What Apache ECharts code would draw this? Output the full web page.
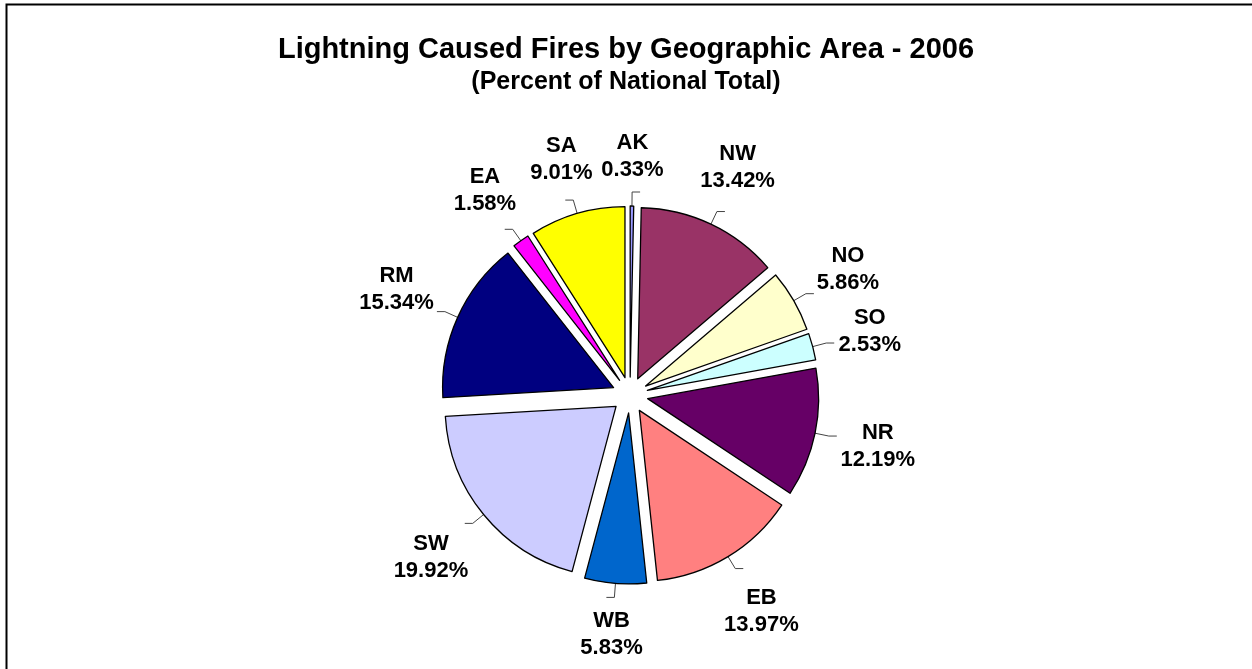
<!DOCTYPE html>
<html>
<head>
<meta charset="utf-8">
<script src="https://cdn.jsdelivr.net/npm/echarts@6/dist/echarts.min.js"></script>
<style>
  html, body { margin: 0; padding: 0; background: #fff; }
  #chart { width: 1252px; height: 669px; }
</style>
</head>
<body>
<div id="chart"></div>
<script>
// areas, clockwise from the top
const areas = ['AK', 'NW', 'NO', 'SO', 'NR', 'EB', 'WB', 'SW', 'RM', 'EA', 'SA']
const percents = [0.33, 13.42, 5.86, 2.53, 12.19, 13.97, 5.83, 19.92, 15.34, 1.58, 9.01]
const colors = ['#9999FF', '#993366', '#FFFFCC', '#CCFFFF', '#660066', '#FF8080',
  '#0066CC', '#CCCCFF', '#000080', '#FF00FF', '#FFFF00']

const CX = 630
const CY = 395
const R = 171
const OFFSET = 18

// angle of each slice's middle, clockwise from 12 o'clock
const total = percents.reduce((a, b) => a + b, 0)
let acc = 0
const midAngles = percents.map((v) => {
  const mid = ((acc + v / 2) / total) * Math.PI * 2
  acc += v
  return mid
})

const myChart = echarts.init(document.getElementById('chart'))

const labelFont = {
  fontFamily: 'Liberation Sans',
  fontWeight: 'bold',
  fontSize: 22,
  lineHeight: 27,
  color: '#000'
}

const option = {
  backgroundColor: '#fff',
  animation: false,
  title: {
    text: 'Lightning Caused Fires by Geographic Area - 2006',
    subtext: '(Percent of National Total)',
    left: 'center',
    top: 30,
    itemGap: 6,
    textStyle: {
      fontFamily: 'Liberation Sans',
      fontWeight: 'bold',
      fontSize: 29,
      color: '#000'
    },
    subtextStyle: {
      fontFamily: 'Liberation Sans',
      fontWeight: 'bold',
      fontSize: 25,
      color: '#000'
    }
  },
  graphic: [
    {
      type: 'rect',
      shape: { x: 6.5, y: 4.5, width: 1400, height: 800 },
      style: { fill: 'none', stroke: '#000', lineWidth: 2 },
      silent: true
    }
  ],
  series: [
    // the exploded slices
    {
      type: 'pie',
      center: [CX, CY],
      radius: [0, R],
      startAngle: 90,
      clockwise: true,
      selectedMode: 'multiple',
      selectedOffset: OFFSET,
      itemStyle: {
        borderColor: '#000',
        borderWidth: 1.3
      },
      emphasis: { disabled: true },
      label: { show: false },
      labelLine: { show: false },
      data: areas.map((name, i) => ({
        name: name,
        value: percents[i],
        selected: true,
        itemStyle: { color: colors[i] }
      }))
    },
    // same data, invisible slices, carries the Excel-style labels and leaders
    {
      type: 'pie',
      center: [CX, CY],
      radius: [0, R],
      startAngle: 90,
      clockwise: true,
      silent: true,
      avoidLabelOverlap: false,
      itemStyle: { color: 'rgba(0,0,0,0)', borderWidth: 0 },
      emphasis: { disabled: true },
      label: {
        show: true,
        position: 'outside',
        formatter: (p) => '{n|' + p.name + '}\n{n|' + p.value.toFixed(2) + '%}',
        ...labelFont,
        rich: {
          n: { ...labelFont, align: 'center' }
        }
      },
      labelLine: {
        show: true,
        lineStyle: { color: '#444', width: 1 }
      },
      labelLayout: (p) => {
        const a = midAngles[p.dataIndex]
        const ux = Math.sin(a)
        const uy = -Math.cos(a)
        const hw = p.labelRect.width / 2
        const hh = p.labelRect.height / 2
        const rim = R + OFFSET
        const dist = rim + 22 + hw * Math.abs(ux) + hh * Math.abs(uy)
        // leader: from the rim, out along the bisector, then a short tick toward the label
        const p0 = [CX + ux * (rim - 2), CY + uy * (rim - 2)]
        const p1 = [CX + ux * (rim + 14), CY + uy * (rim + 14)]
        const side = ux >= 0 ? 1 : -1
        const p2 = [p1[0] + side * 8, p1[1]]
        return {
          x: CX + ux * dist,
          y: CY + uy * dist,
          align: 'center',
          verticalAlign: 'middle',
          labelLinePoints: [p0, p1, p2]
        }
      },
      data: areas.map((name, i) => ({
        name: name,
        value: percents[i]
      }))
    }
  ]
}

myChart.setOption(option)

window.addEventListener('resize', () => {
  myChart.resize()
})
</script>
</body>
</html>
